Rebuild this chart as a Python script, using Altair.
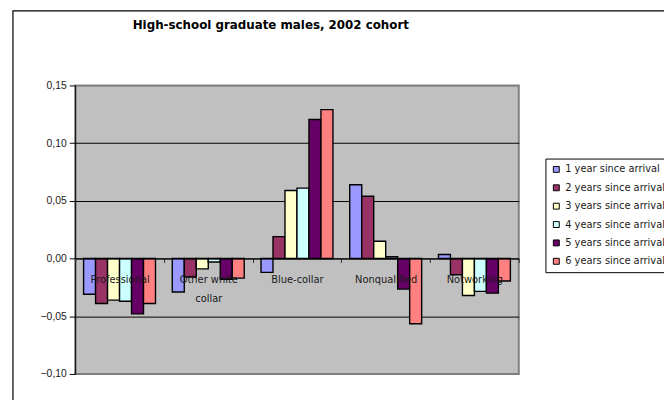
import altair as alt
import pandas as pd

title_text = "High-school graduate males, 2002 cohort"
categories = ["Professional", "Other white collar", "Blue-collar", "Nonqualified", "Notworking"]
series = [
    "1 year since arrival",
    "2 years since arrival",
    "3 years since arrival",
    "4 years since arrival",
    "5 years since arrival",
    "6 years since arrival",
]
values_1y = [-0.031, -0.029, -0.012, 0.064, 0.0035]
values_2y = [-0.039, -0.016, 0.019, 0.054, -0.014]
values_3y = [-0.036, -0.009, 0.059, 0.015, -0.032]
values_4y = [-0.037, -0.003, 0.061, 0.0015, -0.0285]
values_5y = [-0.048, -0.018, 0.1205, -0.0265, -0.030]
values_6y = [-0.039, -0.017, 0.129, -0.0565, -0.0195]
colors = ["#9999FF", "#993366", "#FFFFCC", "#CCFFFF", "#660066", "#FF8080"]
y_ticks = [-0.10, -0.05, 0.0, 0.05, 0.10, 0.15]

all_vals = [values_1y, values_2y, values_3y, values_4y, values_5y, values_6y]
rows = []
for s, vals in zip(series, all_vals):
    for c, v in zip(categories, vals):
        rows.append({"category": c, "series": s, "value": v})
df = pd.DataFrame(rows)

FONT = "Liberation Sans"
WIDE = "DejaVu Sans"
W, H = 449, 292
zero_offset = -(H * 0.10 / 0.25)

bars = alt.Chart(df).mark_bar(stroke="black", strokeWidth=1.4).encode(
    x=alt.X(
        "category:N",
        sort=categories,
        scale=alt.Scale(paddingInner=0, paddingOuter=0),
        axis=alt.Axis(
            title=None,
            orient="bottom",
            offset=zero_offset,
            domain=True,
            domainColor="black",
            domainWidth=1,
            tickBand="extent",
            ticks=True,
            tickSize=4,
            tickColor="#333333",
            labelAngle=0,
            labelFont=WIDE,
            labelFontSize=10,
            labelColor="#1a1a1a",
            labelPadding=12,
            labelLineHeight=19,
            labelExpr="datum.value == 'Other white collar' ? ['Other white', 'collar'] : datum.label",
            zindex=1,
        ),
    ),
    xOffset=alt.XOffset(
        "series:N",
        sort=series,
        scale=alt.Scale(paddingInner=0, paddingOuter=0.7),
    ),
    y=alt.Y(
        "value:Q",
        scale=alt.Scale(domain=[-0.10, 0.15], nice=False, zero=True),
        axis=alt.Axis(
            title=None,
            values=y_ticks,
            labelExpr="replace(format(datum.value, '.2f'), '.', ',')",
            labelFont=FONT,
            labelFontSize=10.5,
            labelColor="#1a1a1a",
            labelPadding=3,
            tickSize=6,
            tickColor="black",
            domainColor="black",
            grid=True,
            gridColor={"condition": {"test": "datum.value > 0.14 || datum.value < -0.09", "value": "#808080"}, "value": "black"},
            gridWidth=1,
            zindex=0,
        ),
    ),
    color=alt.Color(
        "series:N",
        sort=series,
        scale=alt.Scale(domain=series, range=colors),
        legend=alt.Legend(
            title=None,
            orient="none",
            legendX=476,
            legendY=74,
            symbolType="square",
            symbolSize=36,
            symbolStrokeColor="black",
            symbolStrokeWidth=1,
            labelFont=WIDE,
            labelFontSize=10,
            labelColor="#1a1a1a",
            rowPadding=8.6,
            padding=6,
            strokeColor="black",
            fillColor="white",
            labelLimit=300,
        ),
    ),
)

frame = alt.Chart(pd.DataFrame({"a": [0]})).mark_rect(
    fill=None, stroke="black", strokeWidth=1.2
).encode(
    x=alt.value(-63),
    x2=alt.value(700),
    y=alt.value(-75.5),
    y2=alt.value(420),
)

title = alt.Chart(pd.DataFrame({"t": [title_text]})).mark_text(
    font=WIDE, fontSize=12, fontWeight="bold", color="black",
    align="center", baseline="middle",
).encode(
    text="t:N",
    x=alt.value(198),
    y=alt.value(-61),
)

chart = alt.layer(frame, bars, title).properties(
    width=W,
    height=H,
    padding={"left": 68, "top": 76, "right": 147, "bottom": 24},
    autosize=alt.AutoSizeParams(type="none"),
    background="white",
).configure_view(
    fill="#C0C0C0",
    stroke="#808080",
    strokeWidth=2,
)

chart.save("out.html", embed_options={"renderer": "svg", "actions": False})
